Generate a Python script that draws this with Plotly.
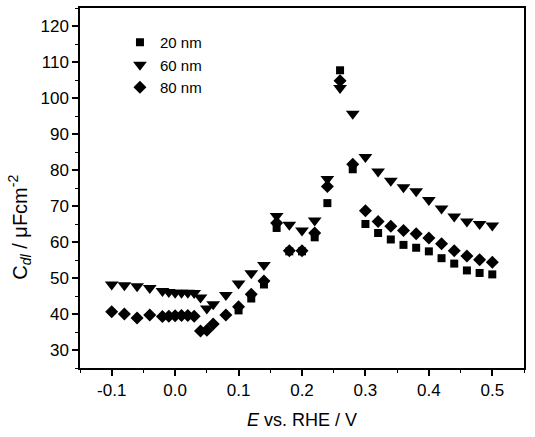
import plotly.graph_objects as go

x_tri = [-0.10, -0.08, -0.06, -0.04, -0.02, -0.01, 0.00, 0.01, 0.02, 0.03, 0.04, 0.05, 0.06, 0.08,
         0.10, 0.12, 0.14, 0.16, 0.18, 0.20, 0.22, 0.24, 0.26, 0.28, 0.30, 0.32, 0.34, 0.36, 0.38,
         0.40, 0.42, 0.44, 0.46, 0.48, 0.50]
y_60nm = [48.2, 48.0, 47.7, 47.2, 46.4, 46.1, 45.9, 45.9, 45.9, 45.8, 44.6, 41.5, 42.7, 45.3,
          48.5, 51.3, 53.6, 67.2, 64.8, 63.2, 66.0, 77.5, 102.8, 95.6, 83.6, 79.6, 77.0, 75.2, 74.1,
          71.7, 69.3, 67.1, 65.7, 65.0, 64.6]

x_dia = x_tri
y_80nm = [40.6, 40.0, 38.9, 39.7, 39.3, 39.4, 39.5, 39.6, 39.6, 39.4, 35.3, 35.5, 37.2, 39.7,
          42.0, 45.5, 49.2, 65.3, 57.6, 57.6, 62.5, 75.4, 104.8, 81.6, 68.7, 65.7, 64.4, 63.2, 62.3,
          61.1, 59.5, 57.6, 56.1, 55.1, 54.4]

x_sq = [0.10, 0.12, 0.14, 0.16, 0.18, 0.20, 0.22, 0.24, 0.26, 0.28, 0.30, 0.32, 0.34, 0.36, 0.38,
        0.40, 0.42, 0.44, 0.46, 0.48, 0.50]
y_20nm = [41.0, 44.3, 48.2, 63.9, 57.4, 57.4, 61.3, 70.8, 107.7, 80.2, 65.0, 62.5, 60.7, 59.2, 58.4,
          57.4, 55.5, 54.0, 52.1, 51.4, 51.0]

FONT = "Liberation Sans, Arial, sans-serif"

fig = go.Figure()
fig.add_trace(go.Scatter(x=x_sq, y=y_20nm, mode="markers", name="20 nm",
                         marker=dict(symbol="square", size=8, color="black")))
fig.add_trace(go.Scatter(x=x_tri, y=y_60nm, mode="markers", name="60 nm",
                         marker=dict(symbol="triangle-down", size=12, color="black")))
fig.add_trace(go.Scatter(x=x_dia, y=y_80nm, mode="markers", name="80 nm",
                         marker=dict(symbol="diamond", size=10, color="black")))

axis_common = dict(showline=True, linecolor="black", linewidth=1.5, mirror=True,
                   ticks="outside", tickcolor="black", tickwidth=1.5, ticklen=6,
                   showgrid=False, zeroline=False,
                   tickfont=dict(family=FONT, size=17, color="black"))

fig.update_xaxes(range=[-0.15, 0.55], tickvals=[-0.1, 0.0, 0.1, 0.2, 0.3, 0.4, 0.5],
                 ticktext=["-0.1", "0.0", "0.1", "0.2", "0.3", "0.4", "0.5"],
                 minor=dict(dtick=0.05, tick0=0, ticks="outside", ticklen=3, tickcolor="black", tickwidth=1.2),
                 title=dict(text="<i>E</i> vs. RHE / V", font=dict(family=FONT, size=18, color="black"),
                            standoff=14),
                 **axis_common)
fig.update_yaxes(range=[25, 125], tickvals=[30, 40, 50, 60, 70, 80, 90, 100, 110, 120],
                 minor=dict(dtick=5, tick0=0, ticks="outside", ticklen=3, tickcolor="black", tickwidth=1.2),
                 **axis_common)

fig.add_annotation(text="C<sub><i>dl</i></sub> / μFcm<sup>-2</sup>", textangle=-90,
                   xref="paper", yref="paper", x=-0.135, y=0.39, xanchor="center", yanchor="middle",
                   showarrow=False,
                   font=dict(family=FONT, size=20, color="black"))

fig.update_layout(width=535, height=437, margin=dict(l=80, r=11, t=6, b=69),
                  paper_bgcolor="white", plot_bgcolor="white",
                  legend=dict(x=0.09, y=0.95, xanchor="left", yanchor="top",
                              bgcolor="rgba(0,0,0,0)", font=dict(family=FONT, size=15, color="black")),
                  showlegend=True)

fig.write_html("out.html")
